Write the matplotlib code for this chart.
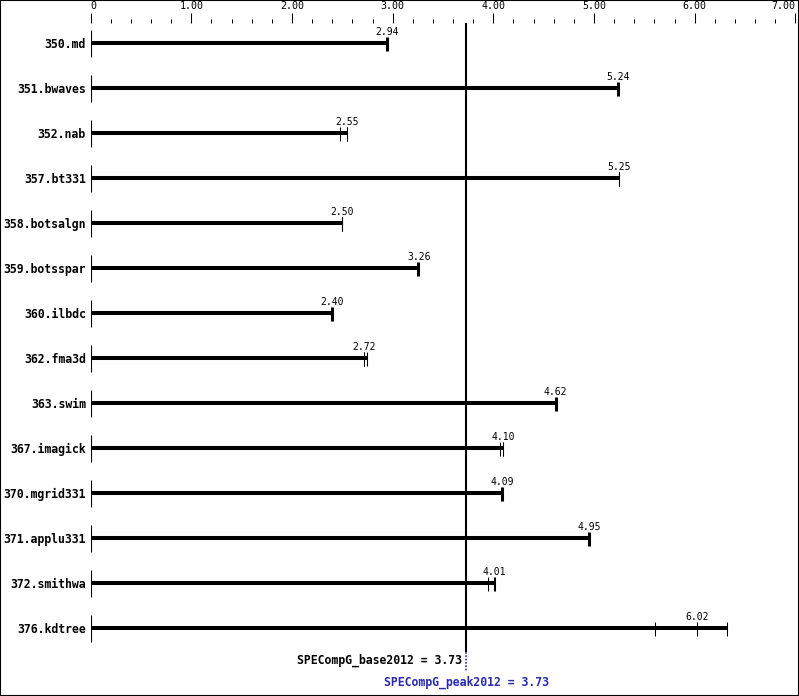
import matplotlib.pyplot as plt
from matplotlib.patches import Rectangle
from matplotlib.ticker import MultipleLocator

# benchmark names, median ratio and individual run ratios
benchmarks = ['350.md', '351.bwaves', '352.nab', '357.bt331', '358.botsalgn',
              '359.botsspar', '360.ilbdc', '362.fma3d', '363.swim', '367.imagick',
              '370.mgrid331', '371.applu331', '372.smithwa', '376.kdtree']
medians = [2.94, 5.24, 2.55, 5.25, 2.50, 3.26, 2.40, 2.72, 4.62, 4.10, 4.09, 4.95, 4.01, 6.02]
runs1 = [2.93, 5.23, 2.48, 5.25, 2.50, 3.24, 2.39, 2.72, 4.61, 4.07, 4.08, 4.94, 3.95, 5.61]
runs2 = [2.94, 5.24, 2.55, 5.25, 2.50, 3.25, 2.40, 2.72, 4.62, 4.10, 4.09, 4.95, 4.01, 6.02]
runs3 = [2.95, 5.25, 2.55, 5.25, 2.50, 3.26, 2.41, 2.74, 4.63, 4.10, 4.10, 4.96, 4.02, 6.32]
x_ticks = [0, 1, 2, 3, 4, 5, 6, 7]
x_tick_labels = ['0', '1.00', '2.00', '3.00', '4.00', '5.00', '6.00', '7.00']
base_score = 3.73
peak_score = 3.73

W, H = 799, 696
mono = 'DejaVu Sans Mono'

fig = plt.figure(figsize=(W / 100, H / 100), dpi=100)
ax = fig.add_axes([90.7 / W, 0, (795.3 - 90.7) / W, (H - 23) / H])
ax.set_xlim(0, 7)
ax.set_ylim(H, 23)  # rows in pixel units from the top
for s in ax.spines.values():
    s.set_visible(False)

# bar rows
rows = [43 + 45 * i for i in range(len(benchmarks))]

# top axis
ax.xaxis.tick_top()
ax.set_xticks(x_ticks)
ax.set_xticklabels(x_tick_labels, fontfamily=mono, fontsize=7.2)
ax.xaxis.set_minor_locator(MultipleLocator(0.2))
ax.tick_params(axis='x', which='major', length=7.2, width=0.75, pad=1.5, direction='out')
ax.tick_params(axis='x', which='minor', length=2.9, width=0.75, direction='out')
lbls = ax.get_xticklabels()
lbls[0].set_ha('left')
lbls[-1].set_ha('right')

# benchmark names as y tick labels
ax.set_yticks(rows)
ax.set_yticklabels(benchmarks, fontfamily=mono, fontsize=8.3, fontweight='bold')
ax.tick_params(axis='y', length=0, pad=3.5)

for y, med, a, b, c in zip(rows, medians, runs1, runs2, runs3):
    hi = max(a, b, c)
    ax.vlines(0, y - 13, y + 14, color='black', lw=0.8)
    ax.hlines(y, 0, hi, color='black', lw=2.9, capstyle='butt')
    ax.vlines([a, b, c], y - 6, y + 8, color='black', lw=0.75)
    ax.annotate(f'{med:.2f}', (med, y), xytext=(0, 4.5), textcoords='offset points',
                ha='center', va='bottom', fontfamily=mono, fontsize=7)

# reference line for the overall score
ax.vlines(base_score, 23, 652, color='black', lw=1.5)
ax.vlines(peak_score, 652, 672, color='#2a2ab0', lw=1.2, linestyles=(0, (1, 1)))
ax.annotate(f'SPECompG_base2012 = {base_score:.2f}', (base_score, 660), xytext=(-3, 0),
            textcoords='offset points', ha='right', va='center',
            fontfamily=mono, fontsize=8.3, fontweight='bold')
ax.annotate(f'SPECompG_peak2012 = {peak_score:.2f}', (peak_score, 682), xytext=(0, 0),
            textcoords='offset points', ha='center', va='center',
            fontfamily=mono, fontsize=8.3, fontweight='bold', color='#2a2ab0')

# frame around the image
fig.add_artist(Rectangle((0, 0), 1, 1, fill=False, lw=1.5, edgecolor='black',
                         transform=fig.transFigure))

fig.savefig('out.png', dpi=100)
